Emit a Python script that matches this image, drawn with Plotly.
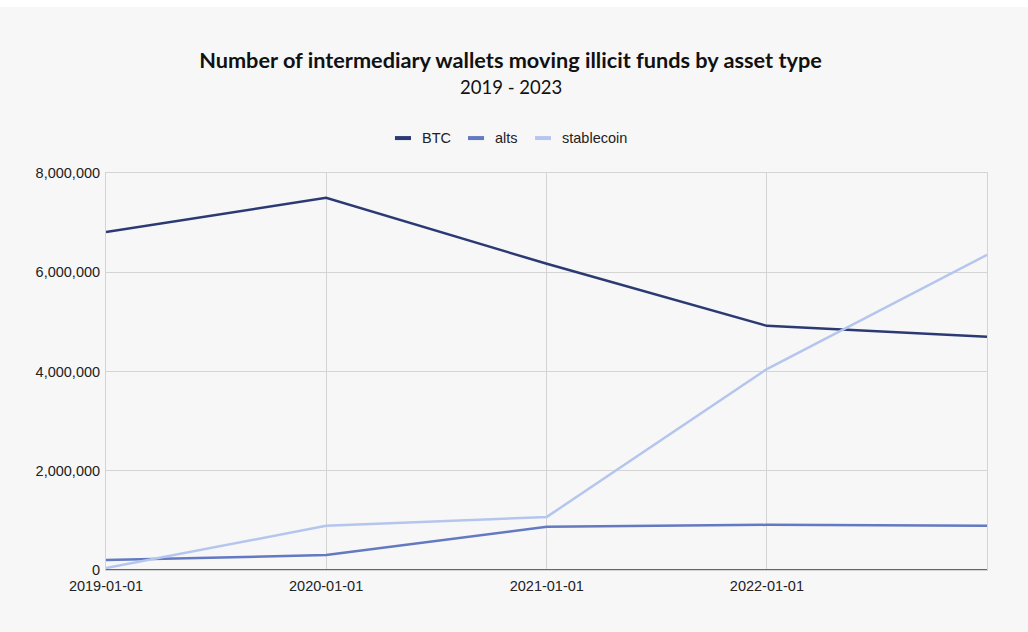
import plotly.graph_objects as go

dates = ["2019-01-01", "2020-01-01", "2021-01-01", "2022-01-01", "2023-01-01"]
btc = [6810000, 7500000, 6170000, 4920000, 4700000]
alts = [200000, 300000, 870000, 910000, 890000]
stablecoin = [40000, 890000, 1070000, 4050000, 6350000]

series_names = ["BTC", "alts", "stablecoin"]
tick_dates = ["2019-01-01", "2020-01-01", "2021-01-01", "2022-01-01"]
tick_labels = ["2019-01-01", "2020-01-01", "2021-01-01", "2022-01-01"]
y_ticks = [0, 2000000, 4000000, 6000000, 8000000]

colors = {"BTC": "#2c3a74", "alts": "#6379c1", "stablecoin": "#b5c6ee"}
values = {"BTC": btc, "alts": alts, "stablecoin": stablecoin}

fig = go.Figure()
for name in series_names:
    fig.add_trace(go.Scatter(x=dates, y=values[name], mode="lines", name=name,
                             showlegend=False,
                             line=dict(color=colors[name], width=2.5)))

tick_font = dict(family="Liberation Sans, Arial", size=14.5, color="#222222")
bg = "#f7f7f7"

# manual legend (swatch start, swatch end, text start) in paper x
legend_pos = {"BTC": (0.3280, 0.3462, 0.3564),
              "alts": (0.4109, 0.4291, 0.4393),
              "stablecoin": (0.4870, 0.5051, 0.5153)}
legend_y = 1.088

shapes = [dict(type="line", xref="paper", yref="y", x0=0, x1=1, y0=0, y1=0,
               line=dict(color="#666666", width=2), layer="above")]
annotations = [dict(text="2019 - 2023", xref="paper", yref="paper", x=0.4597, y=1.2166,
                    xanchor="center", yanchor="middle", showarrow=False,
                    font=dict(family="Lato", size=18.5, color="#111111"))]
for name in series_names:
    s0, s1, t0 = legend_pos[name]
    shapes.append(dict(type="line", xref="paper", yref="paper", x0=s0, x1=s1,
                       y0=legend_y, y1=legend_y, line=dict(color=colors[name], width=4)))
    annotations.append(dict(text=name, xref="paper", yref="paper", x=t0, y=legend_y,
                            xanchor="left", yanchor="middle", showarrow=False,
                            font=tick_font))

fig.update_layout(
    width=1028, height=625,
    paper_bgcolor=bg, plot_bgcolor=bg,
    margin=dict(l=106, r=41, t=166, b=62),
    title=dict(
        text="<b>Number of intermediary wallets moving illicit funds by asset type</b>",
        x=0.4966, xanchor="center", y=1 - 53 / 625, yanchor="middle",
        font=dict(family="Lato", size=21.7, color="#111111"),
    ),
    xaxis=dict(
        type="date", range=["2019-01-01", "2023-01-01"],
        tickvals=tick_dates, ticktext=tick_labels,
        showgrid=True, gridcolor="#d4d4d4", gridwidth=1,
        showline=True, linecolor="#d4d4d4", mirror=True,
        ticks="", tickfont=tick_font, zeroline=False, ticklabelstandoff=3,
    ),
    yaxis=dict(
        range=[0, 8000000], tickvals=y_ticks, tickformat=",",
        showgrid=True, gridcolor="#d4d4d4", gridwidth=1,
        showline=True, linecolor="#d4d4d4", mirror=True,
        zeroline=False, ticks="", ticklabelstandoff=2,
        tickfont=tick_font,
    ),
    shapes=shapes,
    annotations=annotations,
)

fig.write_html("out.html", post_script="document.body.style.margin='7px 0 0 0';")
